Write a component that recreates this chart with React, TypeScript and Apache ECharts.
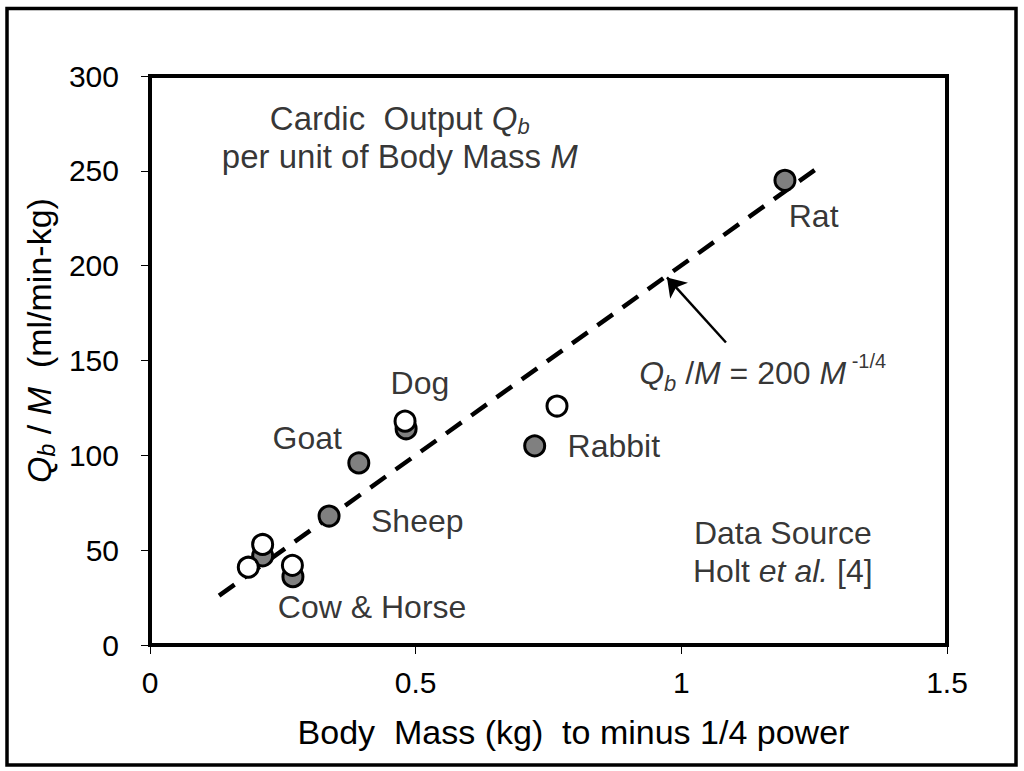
import React, { useEffect, useRef } from "react";
import * as echarts from "echarts";

// Axis ticks
const xMin = 0;
const xMax = 1.5;
const xStep = 0.5;
const yMin = 0;
const yMax = 300;
const yStep = 50;

// Filled (gray) circles
const filledX = [1.195, 0.724, 0.482, 0.393, 0.337, 0.212, 0.269];
const filledY = [245, 105, 114, 96, 68, 47, 36];

// Open (white) circles
const openX = [0.766, 0.48, 0.212, 0.185, 0.268];
const openY = [126, 118, 53, 41, 42];

// Dashed fit line Qb/M = 200 M^-1/4 (end points)
const fitX = [0.13, 1.264];
const fitY = [26, 253];

// Arrow (tail, head)
const arrowFrom = [1.084, 159.5];
const arrowTo = [0.973, 193.8];

// Animal labels
const labelNames = ["Dog", "Goat", "Sheep", "Cow & Horse", "Rabbit", "Rat"];
const labelX = [0.508, 0.296, 0.503, 0.418, 0.873, 1.249];
const labelY = [138.3, 109.3, 65.5, 19.8, 105, 226.2];

// Rich annotations
const noteTexts = [
  "{n|Cardic  Output }{i|Q}{s|b}\n{n|per unit of Body Mass }{i|M}",
  "{i|Q}{s|b}{n| /}{i|M}{n| = 200 }{i|M}{p| -1/4}",
  "{n|Data Source}\n{n|Holt }{i|et al.}{n| [4]}",
];
const noteX = [0.47, 1.153, 1.191];
const noteY = [267.7, 143.6, 48.8];
const noteSize = [33, 32, 32];

const FONT = "'Liberation Sans', Arial, sans-serif";
const FS = 32;
const TICK_FS = 30;
const TITLE_FS = 34;

const makeRich = (fs: number) => ({
  n: { fontSize: fs, fontFamily: FONT, color: "#000", lineHeight: 38 },
  i: { fontSize: fs, fontFamily: FONT, color: "#000", fontStyle: "italic", lineHeight: 38 },
  s: {
    fontSize: Math.round(fs * 0.68),
    fontFamily: FONT,
    color: "#000",
    fontStyle: "italic",
    verticalAlign: "bottom",
    lineHeight: 28,
  },
  p: {
    fontSize: Math.round(fs * 0.62),
    fontFamily: FONT,
    color: "#000",
    verticalAlign: "top",
    lineHeight: 44,
  },
});

export default function App() {
  const ref = useRef<HTMLDivElement>(null);

  useEffect(() => {
    document.body.style.margin = "0";
    if (!ref.current) return;
    const chart = echarts.init(ref.current, null, { renderer: "svg" });

    const option: any = {
      animation: false,
      backgroundColor: "#fff",
      grid: {
        left: 150,
        right: 77,
        top: 76,
        bottom: 126,
        show: true,
        borderColor: "#000",
        borderWidth: 4,
        backgroundColor: "transparent",
      },
      graphic: [
        {
          type: "rect",
          shape: { x: 7, y: 8.5, width: 1009, height: 756.5 },
          style: { fill: "none", stroke: "#000", lineWidth: 3.5 },
          silent: true,
        },
      ],
      xAxis: {
        type: "value",
        min: xMin,
        max: xMax,
        interval: xStep,
        splitLine: { show: false },
        axisLine: { show: true, onZero: false, lineStyle: { color: "#000", width: 4 } },
        axisTick: { show: true, inside: false, length: 9, lineStyle: { color: "#000", width: 1 } },
        axisLabel: { color: "#000", fontSize: TICK_FS, fontFamily: FONT, margin: 22 },
        name: "Body  Mass (kg)  to minus 1/4 power",
        nameLocation: "middle",
        nameGap: 70,
        nameTextStyle: {
          color: "#000",
          fontSize: TITLE_FS,
          fontFamily: FONT,
          padding: [0, 0, 0, 50],
        },
      },
      yAxis: {
        type: "value",
        min: yMin,
        max: yMax,
        interval: yStep,
        splitLine: { show: false },
        axisLine: { show: true, onZero: false, lineStyle: { color: "#000", width: 4 } },
        axisTick: { show: true, inside: false, length: 9, lineStyle: { color: "#000", width: 1 } },
        axisLabel: { color: "#000", fontSize: TICK_FS, fontFamily: FONT, margin: 31 },
        name: "{i|Q}{s|b}{n| / }{i|M}{n|  (ml/min-kg)}",
        nameLocation: "middle",
        nameRotate: 90,
        nameGap: 58,
        nameTextStyle: {
          color: "#000",
          fontSize: TITLE_FS,
          fontFamily: FONT,
          rich: makeRich(TITLE_FS),
          padding: [0, 0, 0, 40],
        },
      },
      tooltip: { show: false },
      series: [
        {
          type: "line",
          data: fitX.map((x, k) => [x, fitY[k]]),
          symbol: "none",
          silent: true,
          lineStyle: { color: "#000", width: 4.5, type: [19, 12] },
          z: 2,
          markLine: {
            silent: true,
            symbol: ["none", "arrow"],
            symbolSize: 18,
            label: { show: false },
            lineStyle: { color: "#000", width: 2.5, type: "solid" },
            data: [[{ coord: arrowFrom }, { coord: arrowTo }]],
          },
        },
        {
          type: "scatter",
          data: filledX.map((x, k) => [x, filledY[k]]),
          symbol: "circle",
          symbolSize: 20,
          silent: true,
          itemStyle: { color: "#808080", borderColor: "#000", borderWidth: 3, opacity: 1 },
          z: 3,
        },
        {
          type: "scatter",
          data: openX.map((x, k) => [x, openY[k]]),
          symbol: "circle",
          symbolSize: 20,
          silent: true,
          itemStyle: { color: "#fff", borderColor: "#000", borderWidth: 3, opacity: 1 },
          z: 4,
        },
        {
          type: "scatter",
          data: labelNames.map((nm, k) => ({ name: nm, value: [labelX[k], labelY[k]] })),
          symbolSize: 1,
          silent: true,
          itemStyle: { color: "transparent" },
          label: {
            show: true,
            position: "inside",
            formatter: "{b}",
            color: "#000",
            fontSize: FS,
            fontFamily: FONT,
          },
          z: 5,
        },
        {
          type: "scatter",
          data: noteTexts.map((t, k) => ({
            value: [noteX[k], noteY[k]],
            label: { formatter: t, fontSize: noteSize[k], rich: makeRich(noteSize[k]) },
          })),
          symbolSize: 1,
          silent: true,
          itemStyle: { color: "transparent" },
          label: {
            show: true,
            position: "inside",
            align: "center",
            verticalAlign: "middle",
            color: "#000",
            fontSize: FS,
            fontFamily: FONT,
          },
          z: 5,
        },
      ],
    };

    chart.setOption(option);
    return () => chart.dispose();
  }, []);

  return <div ref={ref} style={{ width: 1024, height: 771, background: "#fff" }} />;
}
